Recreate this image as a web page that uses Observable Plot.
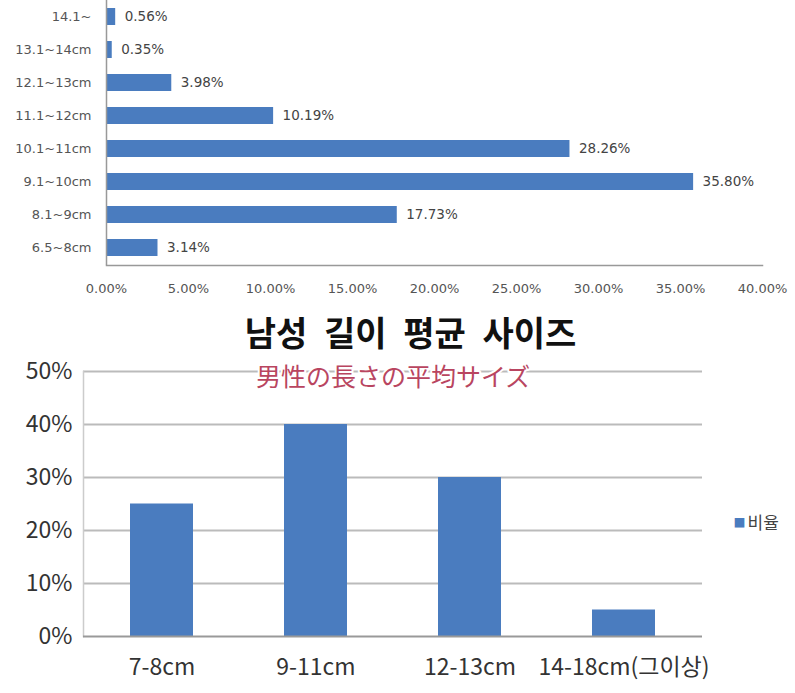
<!DOCTYPE html>
<html>
<head>
<meta charset="utf-8">
<script src="https://cdn.jsdelivr.net/npm/d3@7"></script>
<script src="https://cdn.jsdelivr.net/npm/@observablehq/plot@0.6"></script>
<style>
  body { margin: 0; background: #fff; width: 795px; height: 693px; overflow: hidden; }
  #title {
    height: 38px; padding-top: 13px; padding-left: 26px;
    text-align: center; line-height: 38px;
    font-family: "Noto Sans CJK KR", sans-serif; font-weight: bold;
    font-size: 34px; word-spacing: 9px; color: #111;
  }
  #top, #bottom { display: block; line-height: 0; }
</style>
</head>
<body>
<div id="top"></div>
<div id="title">남성 길이 평균 사이즈</div>
<div id="bottom"></div>
<script>
// 위 차트: 길이 구간별 비율 (%)
const ranges = ["14.1~", "13.1~14cm", "12.1~13cm", "11.1~12cm", "10.1~11cm", "9.1~10cm", "8.1~9cm", "6.5~8cm"];
const shares = [0.56, 0.35, 3.98, 10.19, 28.26, 35.80, 17.73, 3.14];
const shareTicks = [0, 5, 10, 15, 20, 25, 30, 35, 40];

// 아래 차트: 남성 길이 평균 사이즈
const sizes = ["7-8cm", "9-11cm", "12-13cm", "14-18cm(그이상)"];
const ratios = [25, 40, 30, 5];
const ratioTicks = [0, 10, 20, 30, 40, 50];
const subtitle = "男性の長さの平均サイズ";
const legendLabel = "비율";

const blue = "#4a7cbf";

const topData = ranges.map((r, i) => ({range: r, share: shares[i]}));

let topChart = Plot.plot({
  width: 795,
  height: 300,
  marginTop: 0,
  marginLeft: 106,
  marginRight: 33,
  marginBottom: 35,
  style: {fontFamily: "DejaVu Sans", fontSize: "13px", color: "#555", background: "#fff"},
  x: {domain: [0, 40], ticks: shareTicks, tickFormat: d => d.toFixed(2) + "%", tickSize: 0, tickPadding: 18, label: null},
  y: {domain: ranges, paddingInner: 0.48, paddingOuter: 0.25, tickSize: 0, tickPadding: 15, label: null},
  marks: [
    Plot.barX(topData, {x: "share", y: "range", fill: blue}),
    Plot.text(topData, {x: "share", y: "range", text: d => d.share.toFixed(2) + "%", textAnchor: "start", dx: 9, fill: "#444", fontSize: 13.5}),
    Plot.ruleX([0], {stroke: "#999", strokeWidth: 1.5}),
    Plot.frame({anchor: "bottom", stroke: "#999", strokeWidth: 1.5})
  ]
});
d3.select('#top').append(() => topChart);

const bottomData = sizes.map((s, i) => ({size: s, ratio: ratios[i]}));

let bottomChart = Plot.plot({
  width: 795,
  height: 342,
  marginTop: 20,
  marginLeft: 83,
  marginRight: 93,
  marginBottom: 57,
  style: {fontFamily: "Noto Sans CJK KR", fontSize: "23px", color: "#333", background: "#fff"},
  x: {domain: sizes, paddingInner: 0.59, paddingOuter: 0.295, tickSize: 0, tickPadding: 22, label: null},
  y: {domain: [0, 50], ticks: ratioTicks, tickFormat: d => d + "%", tickSize: 0, tickPadding: 11, label: null},
  marks: [
    Plot.ruleY(ratioTicks.filter(t => t > 0), {stroke: "#bbb", strokeWidth: 2}),
    Plot.frame({anchor: "left", stroke: "#ccc", strokeWidth: 1.5}),
    Plot.barY(bottomData, {x: "size", y: "ratio", fill: blue}),
    Plot.ruleY([0], {stroke: "#999", strokeWidth: 2}),
    // 부제목 (일본어)
    Plot.text([subtitle], {text: d => d, frameAnchor: "top", lineAnchor: "middle", dy: 6,
      fontFamily: "Noto Sans CJK JP", fontSize: 25, fill: "#b94560", stroke: "white", strokeWidth: 4}),
    // 범례
    Plot.text(["■"], {text: d => d, frameAnchor: "right", textAnchor: "start", dx: 31, dy: 20, fontSize: 12, fill: blue}),
    Plot.text([legendLabel], {text: d => d, frameAnchor: "right", textAnchor: "start", dx: 45, dy: 20, fontSize: 17, fill: "#444"})
  ]
});
d3.select('#bottom').append(() => bottomChart);
</script>
</body>
</html>
